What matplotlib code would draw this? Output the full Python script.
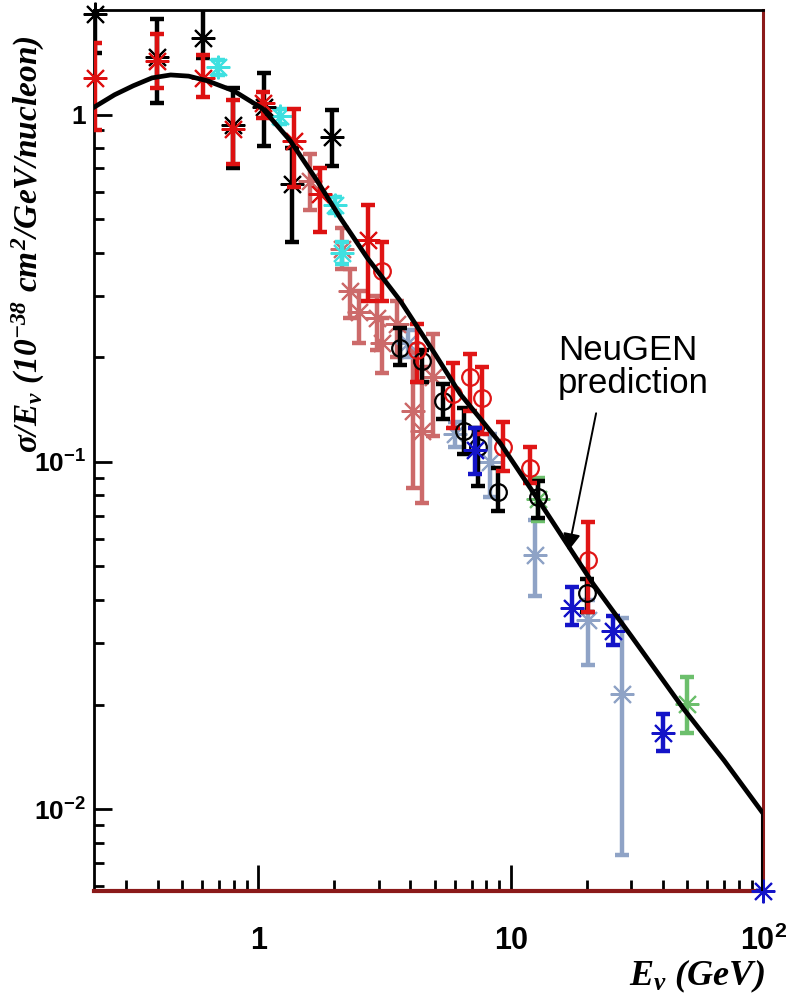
import numpy as np
import matplotlib
matplotlib.use('Agg')
import matplotlib.pyplot as plt
from matplotlib.ticker import FixedLocator, FixedFormatter, LogLocator, NullFormatter

plt.rcParams['mathtext.fontset'] = 'custom'
plt.rcParams['mathtext.it'] = 'Liberation Serif:italic:bold'
plt.rcParams['mathtext.rm'] = 'Liberation Serif:italic:bold'
plt.rcParams['mathtext.bf'] = 'Liberation Sans:bold'

# NeuGEN prediction, sigma/E vs E (GeV)
model_e = [0.224, 0.27, 0.32, 0.38, 0.45, 0.53, 0.63, 0.8, 1.04, 1.34, 1.71, 2.11, 2.7, 3.65,
           5.0, 6.3, 9.1, 12.7, 21.2, 30.0, 48.2, 70.0, 100.0, 100.0]
model_xs = [1.05, 1.14, 1.21, 1.275, 1.30, 1.29, 1.25, 1.17, 1.04, 0.84, 0.645, 0.505, 0.387,
            0.291, 0.205, 0.157, 0.113, 0.0787, 0.0445, 0.0315, 0.0195, 0.0138, 0.0097, 0.0058]

# measurements: energy, value, lower and upper end of the error bar
black_star_e = [0.226, 0.398, 0.605, 0.797, 1.05, 1.36, 1.96]
black_star_y = [1.95, 1.46, 1.66, 0.93, 1.05, 0.63, 0.86]
black_star_lo = [1.5, 1.08, 1.45, 0.70, 0.81, 0.43, 0.71]
black_star_hi = [2.3, 1.89, 2.05, 1.19, 1.32, 0.80, 1.03]

red_star_e = [0.226, 0.398, 0.605, 0.797, 1.04, 1.38, 1.76, 2.73]
red_star_y = [1.27, 1.43, 1.27, 0.91, 1.08, 0.84, 0.59, 0.434]
red_star_lo = [0.90, 1.19, 1.12, 0.72, 0.98, 0.62, 0.46, 0.29]
red_star_hi = [1.61, 1.71, 1.48, 1.10, 1.16, 1.04, 0.70, 0.55]

cyan_e = [0.695, 1.22, 2.02, 2.15]
cyan_y = [1.37, 0.99, 0.55, 0.40]
cyan_lo = [1.30, 0.94, 0.52, 0.37]
cyan_hi = [1.44, 1.04, 0.58, 0.43]

salmon_e = [1.61, 2.15, 2.3, 2.5, 2.96, 3.1, 3.55, 4.1, 4.46, 4.94]
salmon_y = [0.645, 0.41, 0.31, 0.27, 0.26, 0.22, 0.25, 0.14, 0.123, 0.175]
salmon_lo = [0.53, 0.36, 0.26, 0.22, 0.21, 0.18, 0.20, 0.084, 0.076, 0.119]
salmon_hi = [0.77, 0.47, 0.36, 0.31, 0.30, 0.26, 0.29, 0.21, 0.187, 0.234]

red_circ_e = [3.1, 4.26, 5.9, 6.9, 7.7, 9.3, 11.9, 20.2]
red_circ_y = [0.355, 0.21, 0.157, 0.175, 0.153, 0.11, 0.096, 0.052]
red_circ_lo = [0.29, 0.17, 0.125, 0.14, 0.12, 0.094, 0.087, 0.037]
red_circ_hi = [0.43, 0.25, 0.193, 0.205, 0.187, 0.13, 0.11, 0.067]

black_circ_e = [3.65, 4.46, 5.4, 6.5, 7.4, 8.9, 12.8, 20.0]
black_circ_y = [0.213, 0.195, 0.15, 0.123, 0.11, 0.082, 0.079, 0.042]
black_circ_lo = [0.19, 0.17, 0.133, 0.105, 0.085, 0.072, 0.069, 0.037]
black_circ_hi = [0.243, 0.21, 0.168, 0.143, 0.125, 0.096, 0.088, 0.046]

steel_e = [3.93, 6.0, 8.3, 12.5, 20.2, 27.6]
steel_y = [0.22, 0.12, 0.10, 0.054, 0.035, 0.0214]
steel_lo = [0.20, 0.11, 0.079, 0.041, 0.026, 0.0074]
steel_hi = [0.24, 0.13, 0.12, 0.068, 0.040, 0.0356]

blue_e = [7.2, 17.5, 25.3, 40.0, 100.0]
blue_y = [0.108, 0.038, 0.0326, 0.0166, 0.0058]
blue_lo = [0.092, 0.034, 0.0296, 0.0147, 0.0058]
blue_hi = [0.125, 0.0435, 0.036, 0.0188, 0.0058]

green_e = [12.8, 49.8]
green_y = [0.078, 0.0201]
green_lo = [0.0675, 0.0166]
green_hi = [0.090, 0.024]

ASTER = (8, 2, 0)


def draw_set(ax, e, y, lo, hi, color, marker, z=3):
    y = np.array(y)
    err = [y - np.array(lo), np.array(hi) - y]
    if marker == 'o':
        mk = dict(marker='o', ms=12, mfc='none', mec=color, mew=1.6)
    else:
        mk = dict(marker=ASTER, ms=17, mec=color, mew=1.5)
    ax.errorbar(e, y, yerr=err, fmt='none', ecolor=color, elinewidth=3.2,
                capsize=5, capthick=3.2, zorder=z)
    ax.plot(e, y, ls='none', zorder=z + 0.5, clip_on=False, **mk)


fig = plt.figure(figsize=(7.91, 9.97), dpi=100)
ax = fig.add_axes([0.119, 0.106, 0.846, 0.884])
ax.set_xscale('log')
ax.set_yscale('log')
ax.set_xlim(0.224, 100)
ax.set_ylim(0.0058, 2.0)

draw_set(ax, salmon_e, salmon_y, salmon_lo, salmon_hi, '#cc6a6a', 'star', 2)
draw_set(ax, steel_e, steel_y, steel_lo, steel_hi, '#8fa3c6', 'star', 2)
draw_set(ax, green_e, green_y, green_lo, green_hi, '#6cbf6c', 'star', 2)
draw_set(ax, cyan_e, cyan_y, cyan_lo, cyan_hi, '#3fe0e0', 'star', 3)
draw_set(ax, black_star_e, black_star_y, black_star_lo, black_star_hi, 'black', 'star', 3)
draw_set(ax, red_star_e, red_star_y, red_star_lo, red_star_hi, '#dd1111', 'star', 4)
draw_set(ax, black_circ_e, black_circ_y, black_circ_lo, black_circ_hi, 'black', 'o', 4)
draw_set(ax, red_circ_e, red_circ_y, red_circ_lo, red_circ_hi, '#e01515', 'o', 4)
draw_set(ax, blue_e, blue_y, blue_lo, blue_hi, '#1414c8', 'star', 5)

ax.plot(model_e, model_xs, color='black', lw=3.4, zorder=6, solid_joinstyle='round')

# frame
for side in ['left', 'top']:
    ax.spines[side].set_color('black')
    ax.spines[side].set_linewidth(2)
ax.spines['right'].set_color('#8b1a1a')
ax.spines['right'].set_linewidth(2.2)
ax.spines['bottom'].set_color('#8b1a1a')
ax.spines['bottom'].set_linewidth(3)

ax.xaxis.set_major_locator(FixedLocator([1, 10, 100]))
ax.xaxis.set_major_formatter(FixedFormatter(['1', '10', r'$\mathbf{10^{2}}$']))
ax.xaxis.set_minor_locator(LogLocator(base=10, subs=np.arange(2, 10), numticks=20))
ax.xaxis.set_minor_formatter(NullFormatter())
ax.yaxis.set_major_locator(FixedLocator([0.01, 0.1, 1]))
ax.yaxis.set_major_formatter(FixedFormatter([r'$\mathbf{10^{-2}}$', r'$\mathbf{10^{-1}}$', '1']))
ax.yaxis.set_minor_locator(LogLocator(base=10, subs=np.arange(2, 10), numticks=20))
ax.yaxis.set_minor_formatter(NullFormatter())

ax.tick_params(axis='x', which='major', direction='in', length=19, width=2, pad=25,
               labelsize=22, colors='black')
ax.tick_params(axis='x', which='minor', direction='in', length=8, width=2)
ax.tick_params(axis='y', which='major', direction='in', length=13, width=2, pad=6,
               labelsize=19)
ax.tick_params(axis='y', which='minor', direction='in', length=7, width=2)
for lab in ax.get_xticklabels() + ax.get_yticklabels():
    lab.set_fontweight('bold')
    lab.set_family('Liberation Sans')

fig.text(0.036, 0.755, r'$\sigma/E_{\nu}\ (10^{-38}\ cm^{2}/GeV/nucleon)$', rotation=90,
         ha='center', va='center', fontsize=24)
fig.text(0.967, 0.002, r'$E_{\nu}\ (GeV)$', ha='right', va='bottom', fontsize=26)

ax.annotate('NeuGEN\nprediction', xy=(16.9, 0.0554), xytext=(15.4, 0.234),
            ha='left', va='top', fontsize=25, family='Liberation Sans', linespacing=1.0,
            arrowprops=dict(arrowstyle='-|>', color='black', lw=1.4, mutation_scale=26,
                            relpos=(0.27, 0.0), shrinkA=8, shrinkB=0),
            zorder=8)

fig.savefig('out.png', dpi=100)
